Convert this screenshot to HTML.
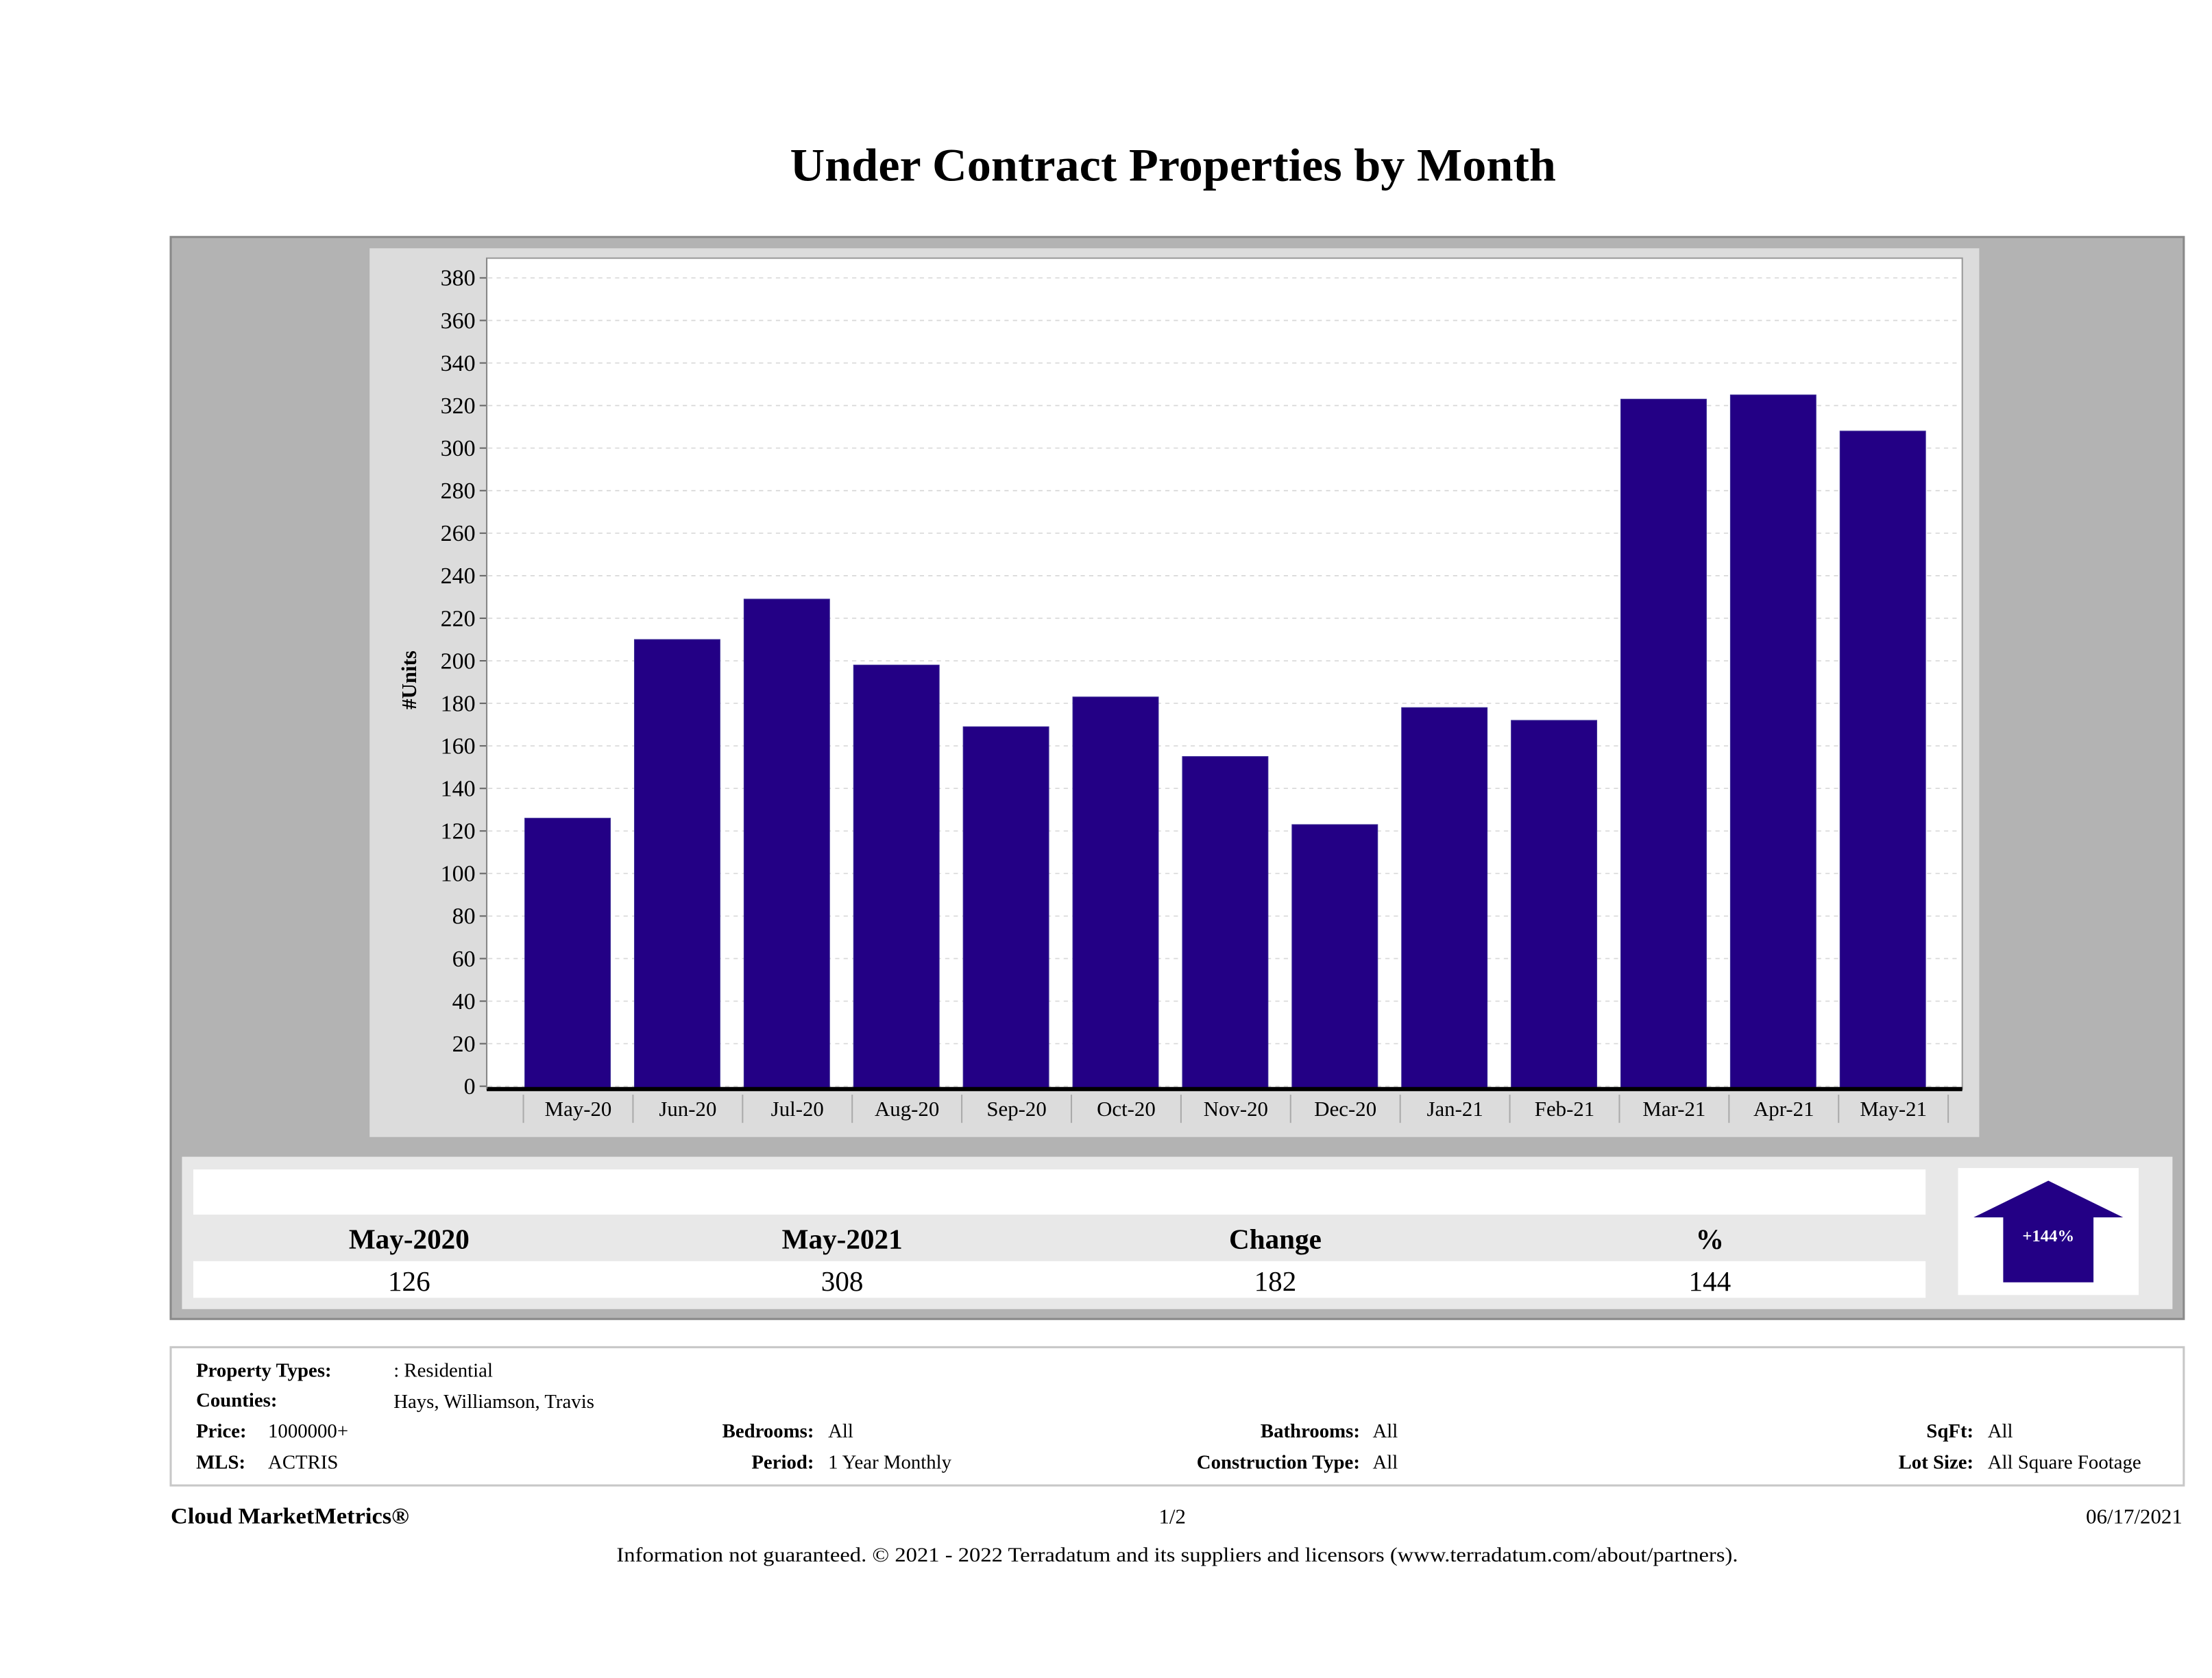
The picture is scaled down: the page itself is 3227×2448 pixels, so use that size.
<!DOCTYPE html>
<html><head><meta charset="utf-8"><style>
html,body{margin:0;padding:0;background:#fff;width:3227px;height:2448px;overflow:hidden}
svg{display:block;font-family:"Liberation Serif",serif}
</style></head><body>
<svg id="root" width="3227" height="2448" viewBox="0 0 1568 1189.5" xmlns="http://www.w3.org/2000/svg">
<rect x="0" y="0" width="1568" height="1190" fill="#fff"/>
<text x="560" y="128" textLength="543" lengthAdjust="spacingAndGlyphs" font-size="33" font-weight="bold" fill="#000">Under Contract Properties by Month</text>
<rect x="121" y="168" width="1427" height="767" fill="#b3b3b3" stroke="#8a8a8a" stroke-width="1.5"/>
<rect x="262" y="176" width="1141" height="630" fill="#dcdcdc"/>
<rect x="345" y="183" width="1046" height="589" fill="#fff" stroke="#999" stroke-width="1"/>
<g id="grid"></g>
<g id="bars"></g>
<g id="yticks"></g>
<g id="xticks"></g>
<line x1="345" y1="772" x2="1391" y2="772" stroke="#000" stroke-width="3"/>
<line x1="345" y1="183" x2="345" y2="772" stroke="#888" stroke-width="1"/>
<text transform="translate(295,482) rotate(-90)" text-anchor="middle" font-size="15" font-weight="bold">#Units</text>

<rect x="129" y="820" width="1411" height="108" fill="#e8e8e8"/>
<rect x="137" y="829" width="1228" height="32" fill="#fff"/>
<rect x="137" y="894" width="1228" height="26" fill="#fff"/>
<g font-size="20" text-anchor="middle">
<text x="290" y="885" font-weight="bold">May-2020</text>
<text x="597" y="885" font-weight="bold">May-2021</text>
<text x="904" y="885" font-weight="bold">Change</text>
<text x="1212" y="885" font-weight="bold">%</text>
<text x="290" y="915">126</text>
<text x="597" y="915">308</text>
<text x="904" y="915">182</text>
<text x="1212" y="915">144</text>
</g>
<rect x="1388" y="828" width="128" height="90" fill="#fff"/>
<polygon points="1452,837 1505,863 1484,863 1484,909 1420,909 1420,863 1399,863" fill="#230085"/>
<text x="1452" y="880" text-anchor="middle" font-size="12" font-weight="bold" fill="#fff">+144%</text>

<rect x="121" y="955" width="1427" height="98" fill="#fff" stroke="#c8c8c8" stroke-width="1.5"/>
<g font-size="14">
<text x="139" y="976" font-weight="bold">Property Types:</text>
<text x="279" y="976">: Residential</text>
<text x="139" y="997" font-weight="bold">Counties:</text>
<text x="279" y="998">Hays, Williamson, Travis</text>
<text x="139" y="1019" font-weight="bold">Price:</text>
<text x="190" y="1019">1000000+</text>
<text x="139" y="1041" font-weight="bold">MLS:</text>
<text x="190" y="1041">ACTRIS</text>
<text x="577" y="1019" text-anchor="end" font-weight="bold">Bedrooms:</text>
<text x="587" y="1019">All</text>
<text x="577" y="1041" text-anchor="end" font-weight="bold">Period:</text>
<text x="587" y="1041">1 Year Monthly</text>
<text x="964" y="1019" text-anchor="end" font-weight="bold">Bathrooms:</text>
<text x="973" y="1019">All</text>
<text x="964" y="1041" text-anchor="end" font-weight="bold">Construction Type:</text>
<text x="973" y="1041">All</text>
<text x="1399" y="1019" text-anchor="end" font-weight="bold">SqFt:</text>
<text x="1409" y="1019">All</text>
<text x="1399" y="1041" text-anchor="end" font-weight="bold">Lot Size:</text>
<text x="1409" y="1041">All Square Footage</text>
</g>
<text x="121" y="1080" font-size="16" font-weight="bold" textLength="169" lengthAdjust="spacingAndGlyphs">Cloud MarketMetrics®</text>
<text x="831" y="1080" font-size="15" text-anchor="middle">1/2</text>
<text x="1547" y="1080" font-size="15" text-anchor="end">06/17/2021</text>
<text x="437" y="1107" font-size="14.5" textLength="795" lengthAdjust="spacingAndGlyphs">Information not guaranteed. © 2021 - 2022 Terradatum and its suppliers and licensors (www.terradatum.com/about/partners).</text>
</svg>
<script>
const categories = ["May-20","Jun-20","Jul-20","Aug-20","Sep-20","Oct-20","Nov-20","Dec-20","Jan-21","Feb-21","Mar-21","Apr-21","May-21"];
const unitValues = [126,210,229,198,169,183,155,123,178,172,323,325,308];
const yTickValues = [0,20,40,60,80,100,120,140,160,180,200,220,240,260,280,300,320,340,360,380];
const NS = "http://www.w3.org/2000/svg";
const yMin = 0, yMax = 380, yPix0 = 770, yPix1 = 197;
function yScale(v){ return yPix0 + (v - yMin) / (yMax - yMin) * (yPix1 - yPix0); }
const bandStart = 371, bandEnd = 1381;
const bandW = (bandEnd - bandStart) / categories.length;
function xBand(i){ return bandStart + i * bandW; }
function mk(tag, attrs, parent){ const e = document.createElementNS(NS, tag); for (const k in attrs) e.setAttribute(k, attrs[k]); parent.appendChild(e); return e; }
const grid = document.getElementById("grid"), bars = document.getElementById("bars"),
      yt = document.getElementById("yticks"), xt = document.getElementById("xticks");
yTickValues.forEach(v => {
  const y = yScale(v);
  const g = mk("line", {x1:346, x2:1390, y1:y, y2:y, stroke:"#d8d8d8", "stroke-width":0.8, "stroke-dasharray":"3,3"}, grid);
  
  
  const tk = mk("line", {x1:340, x2:345, y1:y, y2:y, stroke:"#666", "stroke-width":1}, yt);
  
  
  const t = mk("text", {x:337, y:y + 5.5, "text-anchor":"end", "font-size":16.5}, yt);
  t.textContent = v;
  
  
});
categories.forEach((c, i) => {
  const x0 = xBand(i);
  const top = yScale(unitValues[i]);
  const b = mk("rect", {x:x0 + 1, y:top, width:bandW - 17, height:yPix0 - top + 1, fill:"#230085", stroke:"#3a2a95", "stroke-width":0.5}, bars);
  
  
  const sep = mk("line", {x1:x0, x2:x0, y1:776, y2:796, stroke:"#aaa", "stroke-width":1}, xt);
  
  
  const t = mk("text", {x:x0 + bandW / 2, y:791, "text-anchor":"middle", "font-size":15}, xt);
  t.textContent = c;
  
  
});
const last = mk("line", {x1:bandEnd, x2:bandEnd, y1:776, y2:796, stroke:"#aaa", "stroke-width":1}, xt);


</script>
</body></html>
